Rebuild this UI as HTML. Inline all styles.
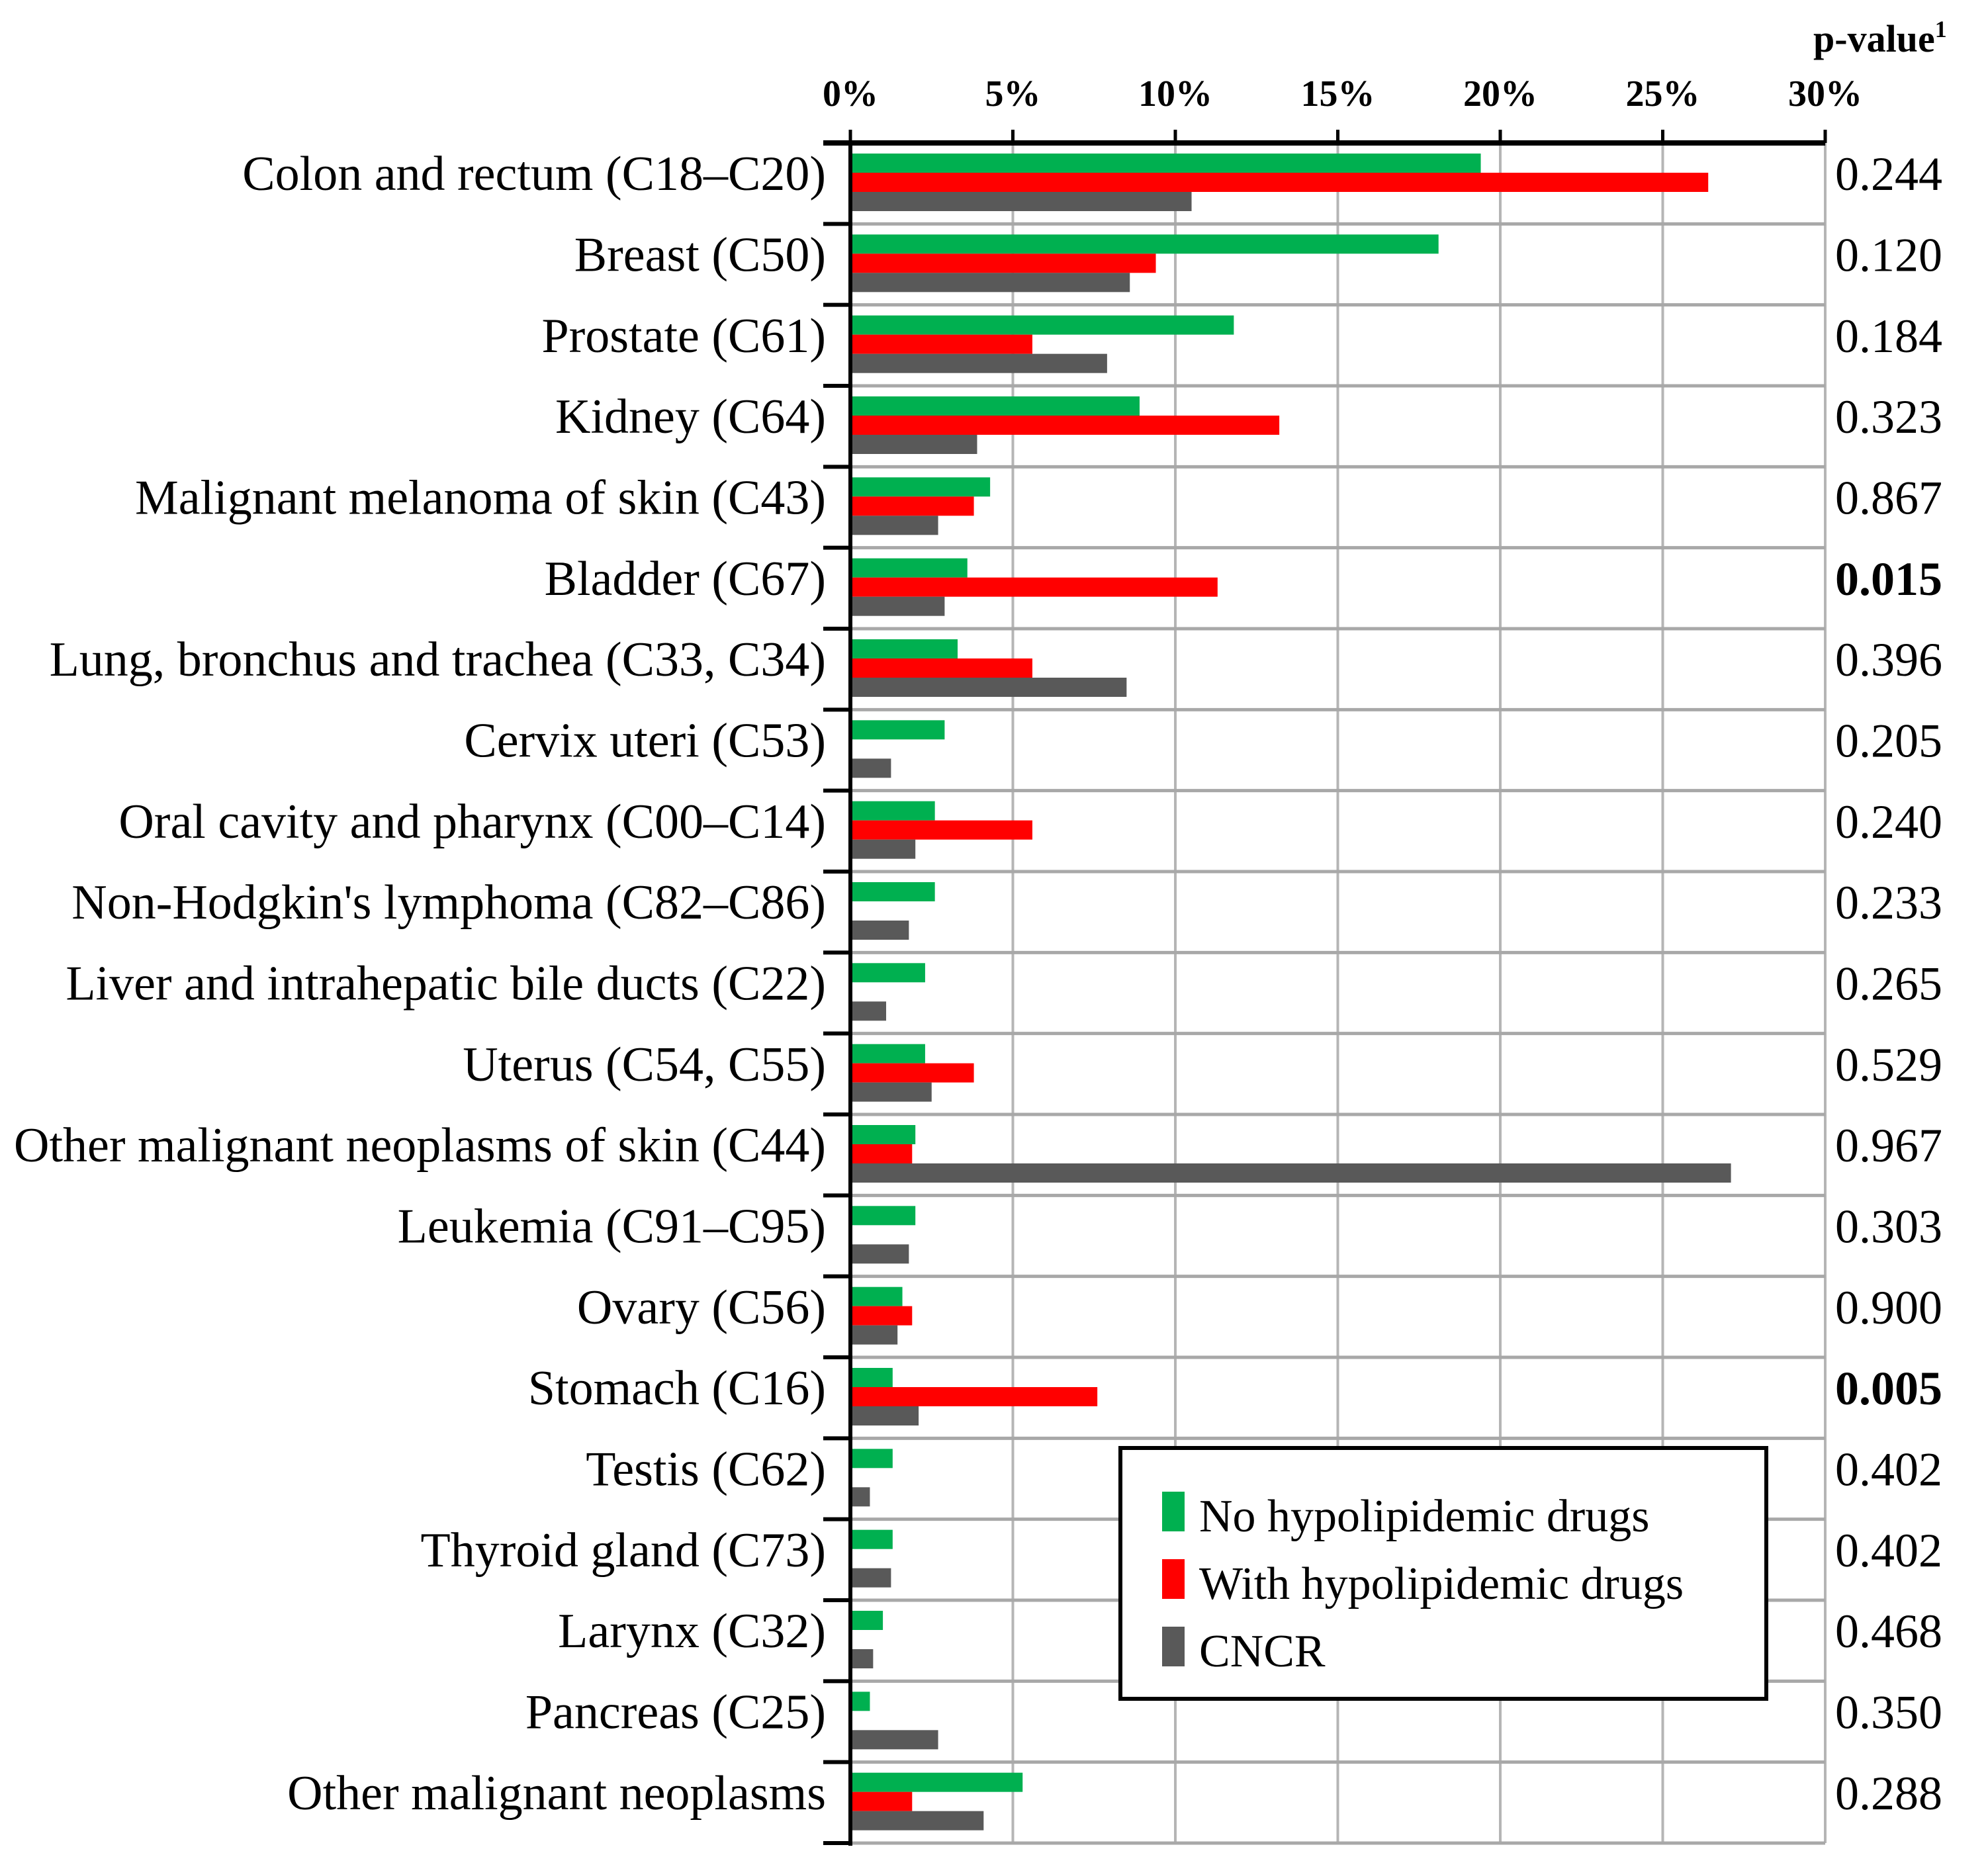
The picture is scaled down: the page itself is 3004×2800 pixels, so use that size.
<!DOCTYPE html>
<html><head><meta charset="utf-8"><style>
html,body{margin:0;padding:0;background:#fff;}
svg{display:block;font-family:"Liberation Serif",serif;}
</style></head><body>
<svg id="chart" width="3004" height="2800" viewBox="0 0 3004 2800" xmlns="http://www.w3.org/2000/svg"></svg>
<script>
const categories=["Colon and rectum (C18–C20)","Breast (C50)","Prostate (C61)","Kidney (C64)","Malignant melanoma of skin (C43)","Bladder (C67)","Lung, bronchus and trachea (C33, C34)","Cervix uteri (C53)","Oral cavity and pharynx (C00–C14)","Non-Hodgkin's lymphoma (C82–C86)","Liver and intrahepatic bile ducts (C22)","Uterus (C54, C55)","Other malignant neoplasms of skin (C44)","Leukemia (C91–C95)","Ovary (C56)","Stomach (C16)","Testis (C62)","Thyroid gland (C73)","Larynx (C32)","Pancreas (C25)","Other malignant neoplasms"];
const noDrugs=[19.4,18.1,11.8,8.9,4.3,3.6,3.3,2.9,2.6,2.6,2.3,2.3,2.0,2.0,1.6,1.3,1.3,1.3,1.0,0.6,5.3];
const withDrugs=[26.4,9.4,5.6,13.2,3.8,11.3,5.6,0,5.6,0,0,3.8,1.9,0,1.9,7.6,0,0,0,0,1.9];
const cncr=[10.5,8.6,7.9,3.9,2.7,2.9,8.5,1.25,2.0,1.8,1.1,2.5,27.1,1.8,1.45,2.1,0.6,1.25,0.7,2.7,4.1];
const pValues=["0.244","0.120","0.184","0.323","0.867","0.015","0.396","0.205","0.240","0.233","0.265","0.529","0.967","0.303","0.900","0.005","0.402","0.402","0.468","0.350","0.288"];
const pBold=[false,false,false,false,false,true,false,false,false,false,false,false,false,false,false,true,false,false,false,false,false];
const xTicks=[0,5,10,15,20,25,30];
const seriesNames=["No hypolipidemic drugs","With hypolipidemic drugs","CNCR"];

const NS="http://www.w3.org/2000/svg";
const svg=document.getElementById('chart');
const X0=1285,X1=2758,Y0=216,Y1=2785;
const band=(Y1-Y0)/categories.length;
const xs=v=>X0+(v/30)*(X1-X0);
const ys=i=>Y0+i*band;
function mk(tag,attrs,parent){const e=document.createElementNS(NS,tag);for(const k in attrs)e.setAttribute(k,attrs[k]);(parent||svg).appendChild(e);return e;}

xTicks.forEach((t,i)=>{if(i===0)return;const l=mk('line',{x1:xs(t),x2:xs(t),y1:Y0,y2:Y1,stroke:'#b5b5b5','stroke-width':4});

});
for(let i=1;i<=categories.length;i++){const l=mk('line',{x1:X0,x2:X1,y1:ys(i),y2:ys(i),stroke:'#a8a8a8','stroke-width':5});


const tk=mk('line',{x1:1244,x2:X0,y1:ys(i),y2:ys(i),stroke:'#000','stroke-width':6});

}

const colors=['#00b050','#ff0000','#595959'];
const series=[noDrugs,withDrugs,cncr];
const bh=29;
categories.forEach((c,i)=>{
  series.forEach((s,k)=>{
    if(s[i]<=0)return;
    const r=mk('rect',{x:X0,y:ys(i)+16+k*bh,width:xs(s[i])-X0,height:bh,fill:colors[k]});
    
    
  });
  const t=mk('text',{x:1248,y:ys(i)+band/2+10,'text-anchor':'end','font-size':74,fill:'#000'});
  t.textContent=c;
  
  
  const p=mk('text',{x:2773,y:ys(i)+band/2+10,'font-size':72,fill:'#000','font-weight':pBold[i]?'bold':'normal'});
  p.textContent=pValues[i];
  
  
});

const ax=mk('line',{x1:1244,x2:X1,y1:Y0,y2:Y0,stroke:'#000','stroke-width':8});


const ay=mk('line',{x1:X0,x2:X0,y1:Y0,y2:Y1+4,stroke:'#000','stroke-width':6});


const b0=mk('line',{x1:1244,x2:X0,y1:Y1,y2:Y1,stroke:'#000','stroke-width':6});


xTicks.forEach(t=>{
  const tk=mk('line',{x1:xs(t),x2:xs(t),y1:Y0-20,y2:Y0,stroke:'#000','stroke-width':5});
  
  
  const lb=mk('text',{x:xs(t),y:160,'text-anchor':'middle','font-size':56,'font-weight':'bold'});
  lb.textContent=t+'%';
  
  
});
const pt=mk('text',{x:2740,y:78,'font-size':58,'font-weight':'bold'});


pt.textContent='p-value';
const sup=mk('tspan',{'font-size':36,dy:-22},pt);sup.textContent='1';

const lg=mk('g',{});


mk('rect',{x:1693,y:2188,width:976,height:379,fill:'#fff',stroke:'#000','stroke-width':6},lg);
seriesNames.forEach((n,k)=>{
  const y=2254+k*102;
  const sw=mk('rect',{x:1756,y:y,width:34,height:60,fill:colors[k]},lg);
  
  
  const tx=mk('text',{x:1812,y:y+60,'font-size':70},lg);
  tx.textContent=n;
  
  
});
</script>
</body></html>
